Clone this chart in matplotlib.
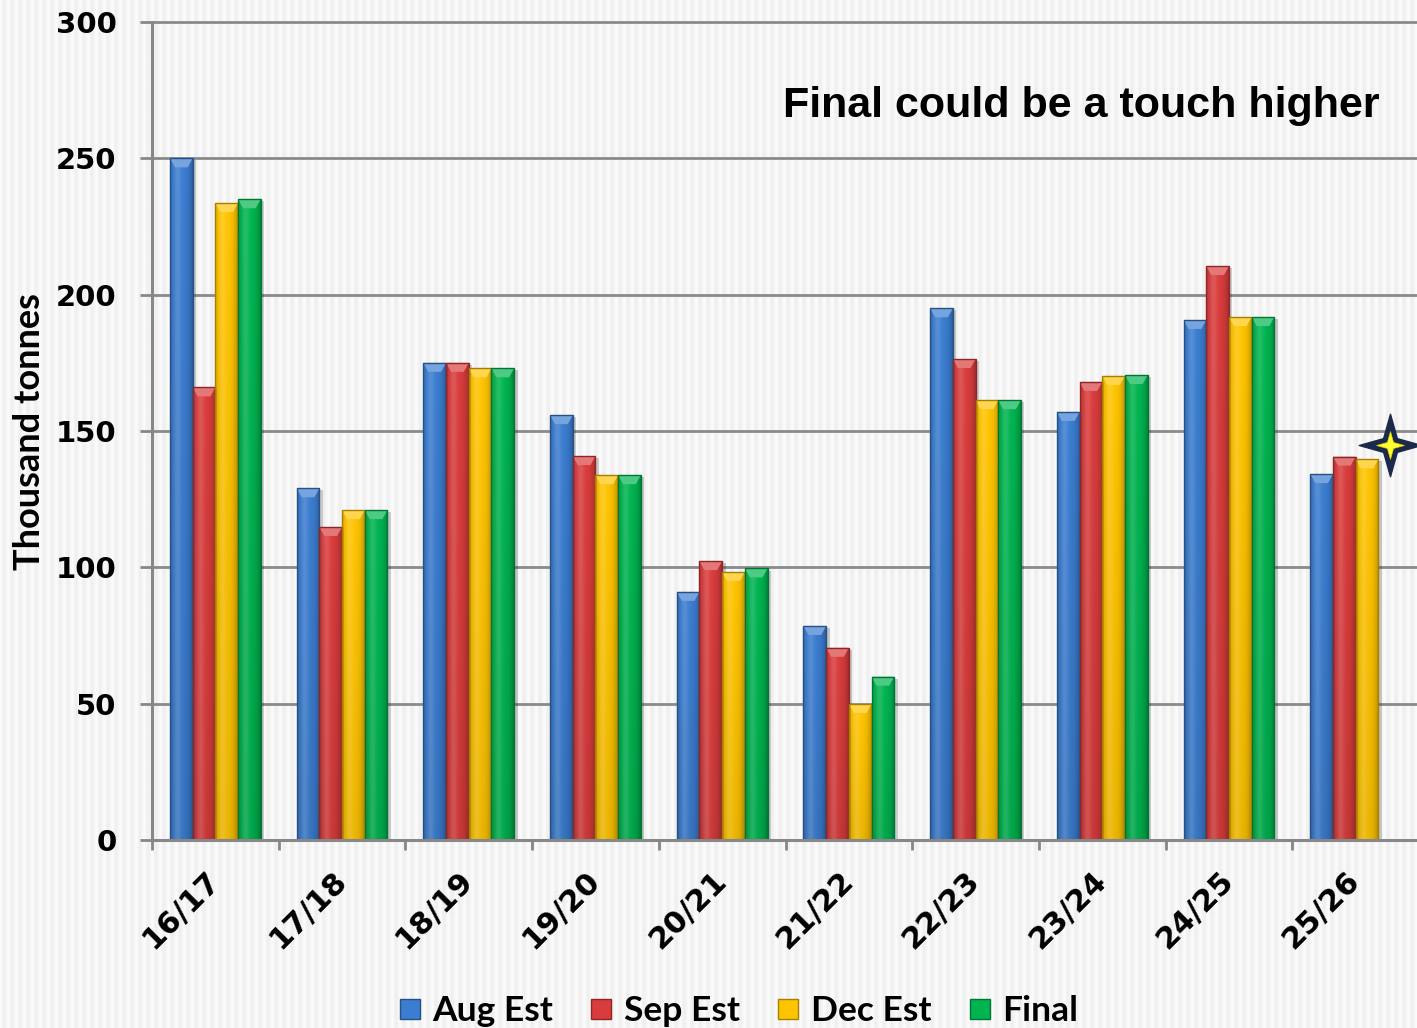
import numpy as np
import matplotlib
matplotlib.use("Agg")
import matplotlib.pyplot as plt
from matplotlib.colors import to_rgb
from matplotlib.patches import Polygon, Rectangle
from matplotlib.path import Path
from matplotlib.lines import Line2D
import matplotlib.patheffects as pe

# ---- data (thousand tonnes) ----
seasons = ["16/17", "17/18", "18/19", "19/20", "20/21",
           "21/22", "22/23", "23/24", "24/25", "25/26"]
aug_est = [250.0, 129.0, 175.0, 155.8, 91.0, 78.5, 195.0, 157.0, 190.7, 134.2]
sep_est = [166.0, 114.8, 175.0, 140.8, 102.3, 70.5, 176.4, 168.0, 210.5, 140.6]
dec_est = [233.6, 121.0, 173.0, 133.8, 98.3, 49.9, 161.3, 170.2, 191.8, 139.6]
final = [235.0, 121.0, 173.0, 133.8, 99.6, 59.9, 161.3, 170.5, 191.8, np.nan]
final_expected = 145.0          # likely final for the current season
series_names = ["Aug Est", "Sep Est", "Dec Est", "Final"]
series_values = [aug_est, sep_est, dec_est, final]
series_colors = ["#3b7dd0", "#d93c3c", "#ffc400", "#00b450"]
y_ticks = [0, 50, 100, 150, 200, 250, 300]

W, H = 1417, 1028
fig = plt.figure(figsize=(W / 100, H / 100), dpi=100)
fig.patch.set_facecolor("#f2f2f2")

# textured light-grey backdrop (fine vertical stripes)
cols = np.arange(W)
rows = np.arange(H)
stripe = np.array([0.985, 0.975, 0.955, 0.945, 0.940, 0.950, 0.965, 0.980])
col_v = stripe[cols % len(stripe)]
row_v = np.where((rows % 11) == 0, -0.008, 0.0)
bg = np.clip(col_v[None, :] + row_v[:, None], 0, 1)
bg = np.dstack([bg, bg, bg])
fig.figimage(bg, xo=0, yo=0, origin="upper", zorder=-10)

ax = fig.add_axes([152 / W, (H - 840) / H, 1267 / W, 818 / H])
ax.set_zorder(1)
ax.set_facecolor("none")
ax.set_xlim(-0.5, len(seasons) - 0.5)
ax.set_ylim(0, 300)

axis_grey = "#878787"
for s in ["top", "right"]:
    ax.spines[s].set_visible(False)
for s in ["left", "bottom"]:
    ax.spines[s].set_color(axis_grey)
    ax.spines[s].set_linewidth(2.2)
    ax.spines[s].set_zorder(4)

ax.set_yticks(y_ticks)
ax.yaxis.grid(True, color="#8a8a8a", linewidth=2.0, zorder=1)
ax.set_axisbelow(True)
for gl in ax.get_ygridlines():
    gl.set_clip_on(False)
ax.tick_params(axis="y", length=8.6, width=2, color=axis_grey, pad=17,
               labelsize=21)
for lbl in ax.get_yticklabels():
    lbl.set_fontweight("bold")
    lbl.set_family("DejaVu Sans")

# group boundaries as major ticks, season names on minor ticks
n = len(seasons)
ax.set_xticks(np.arange(n + 1) - 0.5)
ax.set_xticklabels([])
ax.set_xticks(np.arange(n), minor=True)
ax.set_xticklabels(seasons, minor=True, rotation=45, ha="right", va="center",
                   rotation_mode="anchor", fontsize=22, fontweight="bold",
                   family="DejaVu Sans")
ax.tick_params(axis="x", which="major", length=7.2, width=2, color=axis_grey)
ax.tick_params(axis="x", which="minor", length=0, pad=26)

bar_w = 0.179
x = np.arange(n)


def mix(c, other, a):
    return tuple((1 - a) * np.array(c) + a * np.array(other))


def bar_image(base, nx=60, ny=80):
    base = np.array(to_rgb(base))
    t = np.linspace(0, 1, nx)
    hi = 0.14 * np.exp(-((t - 0.33) / 0.16) ** 2)
    sh = 0.26 * (np.abs(t - 0.45) / 0.55) ** 3.0
    v = np.linspace(0, 1, ny)[:, None]          # 0 bottom -> 1 top
    vs = 0.08 * (1 - v)
    shade = np.clip(sh[None, :] + vs, 0, 1)
    img = base[None, None, :] * (1 - shade[..., None])
    img = img + (1 - img) * hi[None, :, None]
    return np.clip(img, 0, 1)


bevel = 3.3
for i, (vals, col) in enumerate(zip(series_values, series_colors)):
    dark = mix(to_rgb(col), (0, 0, 0), 0.35)
    pos = x + (i - 1.5) * bar_w
    bars = ax.bar(pos, vals, width=bar_w, color=col, edgecolor="none",
                  zorder=2)
    img = bar_image(col)
    for b in bars:
        h = b.get_height()
        if not np.isfinite(h) or h <= 0:
            continue
        x0 = b.get_x()
        w = b.get_width()
        b.set_path_effects([pe.SimplePatchShadow(offset=(2.5, -1.5),
                                                 shadow_rgbFace="k",
                                                 alpha=0.18),
                            pe.Normal()])
        im = ax.imshow(img, extent=(x0, x0 + w, 0, h), origin="lower",
                       aspect="auto", interpolation="bilinear", zorder=2.1)
        im.set_clip_path(b)
        cap = Polygon([(x0, h), (x0 + w, h), (x0 + w * 0.78, h - bevel),
                       (x0 + w * 0.22, h - bevel)], closed=True,
                      facecolor=mix(to_rgb(col), (1, 1, 1), 0.30),
                      edgecolor="none", zorder=2.2)
        ax.add_patch(cap)
        ax.add_patch(Rectangle((x0, 0), w, h, fill=False, edgecolor=dark,
                               linewidth=1.0, zorder=2.3))

ax.set_xlim(-0.5, n - 0.5)
ax.set_ylim(0, 300)

# star for the expected final figure
star = Path([(0, 1), (0.22, 0.22), (1, 0), (0.22, -0.22), (0, -1),
             (-0.22, -0.22), (-1, 0), (-0.22, 0.22), (0, 1)],
            [Path.MOVETO] + [Path.LINETO] * 7 + [Path.CLOSEPOLY])
star_x = x[-1] + 1.5 * bar_w
ax.plot([star_x], [final_expected], marker=star, markersize=45,
        color="#1b2a4a", linestyle="none", zorder=5, clip_on=False)
ax.plot([star_x], [final_expected], marker=star, markersize=20,
        color="#ffff33", markeredgecolor="#e0d000", markeredgewidth=0.5,
        linestyle="none", zorder=6, clip_on=False)

fig.text(1380 / W, 1 - 117 / H, "Final could be a touch higher",
         ha="right", va="baseline", fontsize=31, fontweight="bold",
         family="Liberation Sans", color="black")

fig.text(30 / W, 1 - 432 / H, "Thousand tonnes", rotation=90,
         ha="center", va="center", fontsize=26, fontweight="bold",
         family="Lato", color="black")

handles = [Line2D([], [], marker="s", linestyle="none", markersize=14,
                  markerfacecolor=c,
                  markeredgecolor=mix(to_rgb(c), (0, 0, 0), 0.35),
                  markeredgewidth=1.0) for c in series_colors]
leg = fig.legend(handles, series_names, loc="center", ncol=4,
                 bbox_to_anchor=(737 / W, 1 - 1011 / H), frameon=False,
                 handletextpad=0.25, columnspacing=0.95, handlelength=0.8,
                 prop={"family": "Lato", "weight": "bold", "size": 25.5})

fig.savefig("out.png", dpi=100, facecolor=fig.get_facecolor())
